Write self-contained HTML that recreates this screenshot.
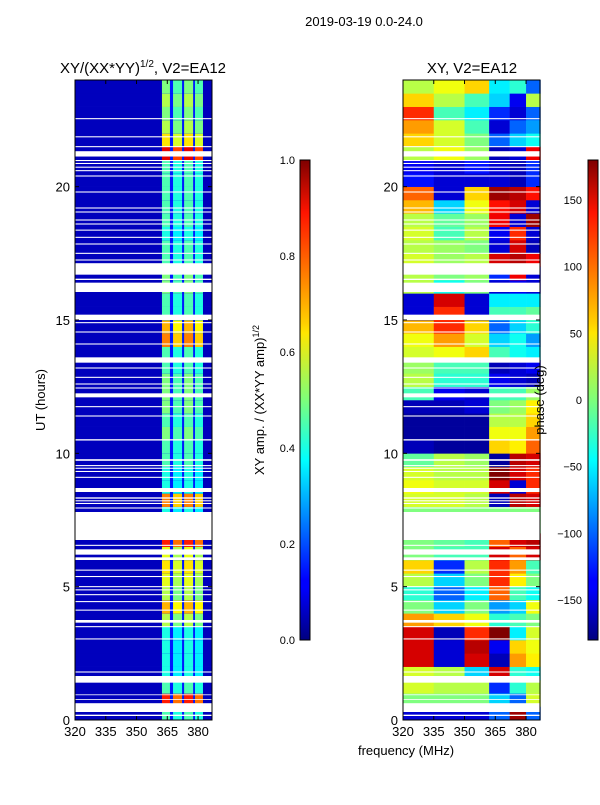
<!DOCTYPE html>
<html><head><meta charset="utf-8"><style>
body{margin:0;background:#fff;}
svg text{font-family:"Liberation Sans","DejaVu Sans",sans-serif;fill:#000;}
</style></head><body>
<svg id="fig" width="600" height="800" xmlns="http://www.w3.org/2000/svg">
<defs>
<linearGradient id="jet" x1="0" y1="1" x2="0" y2="0">
<stop offset="0" stop-color="#00007f"/><stop offset="0.11" stop-color="#0000ff"/><stop offset="0.125" stop-color="#0000ff"/><stop offset="0.34" stop-color="#00dcff"/><stop offset="0.375" stop-color="#00ffff"/><stop offset="0.5" stop-color="#7dff7a"/><stop offset="0.64" stop-color="#ffe600"/><stop offset="0.66" stop-color="#ffd000"/><stop offset="0.89" stop-color="#ff1400"/><stop offset="1" stop-color="#7f0000"/>
</linearGradient>
</defs>
<text x="364" y="26" font-size="13" text-anchor="middle">2019-03-19 0.0-24.0</text>
<text x="143" y="73" font-size="15" text-anchor="middle">XY/(XX*YY)<tspan font-size="10" dy="-6">1/2</tspan><tspan dy="6">, V2=EA12</tspan></text>
<text x="472" y="73" font-size="15" text-anchor="middle">XY, V2=EA12</text>
<g id="left"></g>
<g id="right"></g>
<g id="axes"></g>
<rect x="300" y="160" width="10" height="480" fill="url(#jet)" stroke="#000" stroke-width="1"/>
<rect x="588" y="160" width="10" height="480" fill="url(#jet)" stroke="#000" stroke-width="1"/>
<text transform="translate(45,400) rotate(-90)" font-size="13" text-anchor="middle">UT (hours)</text>
<text transform="translate(264,400) rotate(-90)" font-size="13" text-anchor="middle">XY amp. / (XX*YY amp)<tspan font-size="9" dy="-5">1/2</tspan></text>
<text transform="translate(544,400) rotate(-90)" font-size="13" text-anchor="middle">phase (deg)</text>
<text x="406" y="755" font-size="13" text-anchor="middle">frequency (MHz)</text>
</svg>
<script>
const hourRows=[0,0.5,1,1.5,2,2.5,3,3.5,4,4.5,5,5.5,6,6.5,7,7.5,8,8.5,9,9.5,10,10.5,11,11.5,12,12.5,13,13.5,14,14.5,15,15.5,16,16.5,17,17.5,18,18.5,19,19.5,20,20.5,21,21.5,22,22.5,23,23.5];
const phaseFreqEdges=[320,335,350,362,372,380,387];
const phaseValues=[
[-150,-150,-150,-100,170,-100],[0,0,0,-60,-100,30],[30,20,20,-120,-30,20],[30,20,-60,150,-30,-40],
[150,-150,150,-160,80,50],[150,-150,160,-140,60,40],[150,-160,120,180,-50,30],[80,60,40,-30,-20,0],
[0,-60,0,-80,-60,40],[-30,-100,-50,100,-20,-40],[20,-60,0,120,50,0],[60,-120,20,120,80,-20],
[0,-20,-20,150,100,150],[0,-10,-20,100,150,160],[0,0,0,0,0,0],[0,0,0,0,0,0],
[30,30,20,-160,160,150],[40,30,30,150,-150,120],[30,20,20,180,150,120],[-10,20,10,-170,160,150],
[-160,-170,-170,60,50,100],[-170,-170,-170,40,40,80],[-170,-170,-170,20,20,60],[-160,-160,-150,0,10,50],
[-20,-140,-150,-20,-20,10],[20,-30,-30,-140,-150,-160],[10,-20,-20,-160,-150,-140],[30,40,60,-20,-40,-50],
[40,80,30,-60,-40,-80],[70,120,60,-100,-60,-30],[-150,120,-150,-20,-20,-10],[-150,150,-150,-50,-50,-50],
[20,-40,0,-150,-140,-150],[20,0,10,-120,140,-150],[30,10,20,150,160,140],[20,10,0,-150,150,-160],
[30,-20,20,-140,120,-150],[20,-10,10,140,-150,170],[70,-60,40,130,150,-150],[100,-150,60,170,160,130],
[-130,-150,-150,-150,-160,-120],[-140,-150,-130,-150,-160,-120],[20,40,10,-160,-150,140],[60,30,0,-100,-60,-40],
[80,30,-20,-150,-100,-80],[120,-20,-50,-120,-150,-100],[60,20,-20,-60,-140,20],[20,40,60,-50,-30,-100]];
const ampStripeEdges=[[362.4,366.3],[367.8,372.2],[373.2,377.6],[378.5,382.4]];
const ampBase=0.06;
const ampBetween=0.15;
const ampStripe=[0.45,0.85,0.45,0.4,0.4,0.4,0.4,0.55,0.7,0.55,0.6,0.65,0.6,0.85,0.4,0.4,
0.75,0.4,0.4,0.45,0.45,0.5,0.45,0.5,0.5,0.5,0.45,0.45,0.75,0.7,0.45,0.45,
0.5,0.5,0.45,0.45,0.4,0.45,0.45,0.45,0.45,0.45,0.9,0.65,0.55,0.5,0.55,0.5];
const gaps=[[0.15,0.2],[0.3,0.63],[0.75,0.78],[0.93,0.96],[1.4,1.65],[1.78,1.82],[3.02,3.06],[3.48,3.52],[3.65,3.75],[4.1,4.14],[4.42,4.46],[4.68,4.72],[4.86,4.9],[4.98,5.02],[5.36,5.4],[5.6,5.64],[6.0,6.1],[6.2,6.4],[6.53,6.57],[6.75,7.8],[7.93,7.97],[8.1,8.14],[8.2,8.24],[8.3,8.35],[8.55,8.7],[9.08,9.12],[9.3,9.34],[9.42,9.46],[9.52,9.56],[9.72,9.78],[10.48,10.53],[11.38,11.42],[11.73,11.77],[12.1,12.25],[12.43,12.47],[12.58,12.62],[12.83,12.87],[13.18,13.22],[13.4,13.6],[14.08,14.12],[14.53,14.57],[14.88,14.92],[15.0,15.2],[16.05,16.4],[16.5,16.55],[16.7,17.13],[17.23,17.27],[17.48,17.52],[17.83,17.87],[18.08,18.12],[18.35,18.39],[18.58,18.62],[18.73,18.77],[19.03,19.07],[19.18,19.22],[19.78,19.82],[20.38,20.42],[20.58,20.62],[20.71,20.75],[20.85,20.89],[20.96,21.0],[21.13,21.33],[21.48,21.52],[21.85,21.89],[22.53,22.57]];
const yTicks=[0,5,10,15,20];
const xTicks=[320,335,350,365,380];
const ampTicks=[0.0,0.2,0.4,0.6,0.8,1.0];
const phaseTicks=[-150,-100,-50,0,50,100,150];

const NS='http://www.w3.org/2000/svg';
const PT=80,PB=720,FMIN=320,FMAX=386.8;
const LX0=75,LX1=212,RX0=403,RX1=540;
function yScale(h){return PB-(h/24)*(PB-PT);}
function xL(f){return LX0+(f-FMIN)/(FMAX-FMIN)*(LX1-LX0);}
function xR(f){return RX0+(f-FMIN)/(FMAX-FMIN)*(RX1-RX0);}
function jet(v){v=Math.max(0,Math.min(1,v));
 const r=Math.max(0,Math.min(1,1.5-Math.abs(4*v-3))),g=Math.max(0,Math.min(1,1.5-Math.abs(4*v-2))),b=Math.max(0,Math.min(1,1.5-Math.abs(4*v-1)));
 return 'rgb('+Math.round(r*255)+','+Math.round(g*255)+','+Math.round(b*255)+')';}
function mk(parent,tag,attrs){const e=document.createElementNS(NS,tag);for(const k in attrs)e.setAttribute(k,attrs[k]);parent.appendChild(e);return e;}
const L=document.getElementById('left'),R=document.getElementById('right'),A=document.getElementById('axes');
hourRows.forEach((h,i)=>{
 const y0=yScale(h+0.5),y1=yScale(h);
 let r=mk(L,'rect',{x:LX0,y:y0,width:LX1-LX0,height:y1-y0+0.3,fill:jet(ampBase)});
 
 
 r=mk(L,'rect',{x:xL(362.4),y:y0,width:xL(382.4)-xL(362.4),height:y1-y0+0.3,fill:jet(ampBetween)});
 
 
 ampStripeEdges.forEach((e,j)=>{
  const c=mk(L,'rect',{x:xL(e[0]),y:y0,width:xL(e[1])-xL(e[0]),height:y1-y0+0.3,fill:jet(ampStripe[i]*(j%2?0.9:1))});
  
  
 });
 phaseValues[i].forEach((v,j)=>{
  const c=mk(R,'rect',{x:xR(phaseFreqEdges[j]),y:y0,width:xR(phaseFreqEdges[j+1])-xR(phaseFreqEdges[j])+0.3,height:y1-y0+0.3,fill:jet((v+180)/360)});
  
  
 });
});
gaps.forEach(g=>{[[LX0,LX1],[RX0,RX1]].forEach(p=>{
 const r=mk(A,'rect',{x:p[0],y:yScale(g[1]),width:p[1]-p[0],height:yScale(g[0])-yScale(g[1]),fill:'#fff'});
 
 
});});
[[LX0,LX1,xL,'left'],[RX0,RX1,xR,'right']].forEach(p=>{
 const f=mk(A,'rect',{x:p[0],y:PT,width:p[1]-p[0],height:PB-PT,fill:'none',stroke:'#000','stroke-width':1});
 
 
 yTicks.forEach(t=>{const y=yScale(t);
  mk(A,'line',{x1:p[0],x2:p[0]+4,y1:y,y2:y,stroke:'#000'});mk(A,'line',{x1:p[1]-4,x2:p[1],y1:y,y2:y,stroke:'#000'});
  const tx=mk(A,'text',{x:p[0]-5,y:y+5,'font-size':13,'text-anchor':'end'});tx.textContent=t;
  
  
 });
 xTicks.forEach(t=>{const x=p[2](t);
  mk(A,'line',{x1:x,x2:x,y1:PB,y2:PB-4,stroke:'#000'});mk(A,'line',{x1:x,x2:x,y1:PT,y2:PT+4,stroke:'#000'});
  const tx=mk(A,'text',{x:x,y:PB+16,'font-size':13,'text-anchor':'middle'});tx.textContent=t;
  
  
 });
});
ampTicks.forEach(t=>{const y=640-t*480;
 mk(A,'line',{x1:306,x2:310,y1:y,y2:y,stroke:'#000'});
 const tx=mk(A,'text',{x:295,y:y+4,'font-size':11,'text-anchor':'end'});tx.textContent=t.toFixed(1);
 
 
});
phaseTicks.forEach(t=>{const y=400-t*480/360;
 mk(A,'line',{x1:594,x2:598,y1:y,y2:y,stroke:'#000'});
 const tx=mk(A,'text',{x:582,y:y+4,'font-size':11,'text-anchor':'end'});tx.textContent=t<0?'\u2212'+(-t):t;
 
 
});
</script>
</body></html>
